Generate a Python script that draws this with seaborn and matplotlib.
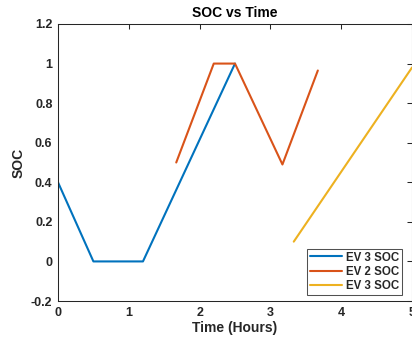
import matplotlib
matplotlib.use("Agg")
import matplotlib.pyplot as plt
import seaborn as sns
import pandas as pd

# Data
ev3a_time = [0.0, 0.5, 1.2, 2.5]
ev3a_soc = [0.4, 0.0, 0.0, 1.0]
ev2_time = [1.67, 2.2, 2.5, 3.17, 3.67]
ev2_soc = [0.5, 1.0, 1.0, 0.49, 0.965]
ev3b_time = [3.33, 5.0]
ev3b_soc = [0.1, 0.98]
labels = ["EV 3 SOC", "EV 2 SOC", "EV 3 SOC"]
colors = ["#0072BD", "#D95319", "#EDB120"]
xticks = [0, 1, 2, 3, 4, 5]
yticks = [-0.2, 0, 0.2, 0.4, 0.6, 0.8, 1, 1.2]
ytick_labels = ["-0.2", "0", "0.2", "0.4", "0.6", "0.8", "1", "1.2"]

sns.set_style("white")
plt.rcParams["font.family"] = ["Liberation Sans", "DejaVu Sans"]
plt.rcParams["font.weight"] = "bold"

fig = plt.figure(figsize=(4.12, 3.44), dpi=100)
ax = fig.add_axes([58 / 412, 1 - 301 / 344, 354 / 412, 277 / 344])

series = [(ev3a_time, ev3a_soc), (ev2_time, ev2_soc), (ev3b_time, ev3b_soc)]
for (t, s), lab, c in zip(series, labels, colors):
    df = pd.DataFrame({"t": t, "s": s})
    sns.lineplot(data=df, x="t", y="s", sort=False, color=c, linewidth=1.5,
                 label=lab, ax=ax, estimator=None)

ax.set_xlim(0, 5)
ax.set_ylim(-0.2, 1.2)
ax.set_xticks(xticks)
ax.set_xticklabels([str(v) for v in xticks])
ax.set_yticks(yticks)
ax.set_yticklabels(ytick_labels)

for sp in ax.spines.values():
    sp.set_visible(True)
    sp.set_color("#262626")
    sp.set_linewidth(0.75)
ax.tick_params(direction="in", length=3.5, width=0.75, colors="#262626",
               top=True, right=True, labelsize=9, pad=4)
for lbl in ax.get_xticklabels() + ax.get_yticklabels():
    lbl.set_fontweight("bold")

ax.set_title("SOC vs Time", fontsize=10, fontweight="bold", color="black", pad=5)
ax.set_xlabel("Time (Hours)", fontsize=10, fontweight="bold", color="#262626", labelpad=2)
ax.set_ylabel("SOC", fontsize=10, fontweight="bold", color="#262626", labelpad=4)

leg = ax.legend(loc="lower right", bbox_to_anchor=(402 / 412 * 412 / 354 - 58 / 354, 6 / 277),
                fontsize=8.3, frameon=True, fancybox=False, handlelength=2.8,
                handletextpad=0.3, borderpad=0.25, labelspacing=0.2, borderaxespad=0.0)
leg.get_frame().set_edgecolor("#262626")
leg.get_frame().set_linewidth(0.75)
for txt in leg.get_texts():
    txt.set_fontweight("bold")

fig.savefig("out.png", dpi=100)
